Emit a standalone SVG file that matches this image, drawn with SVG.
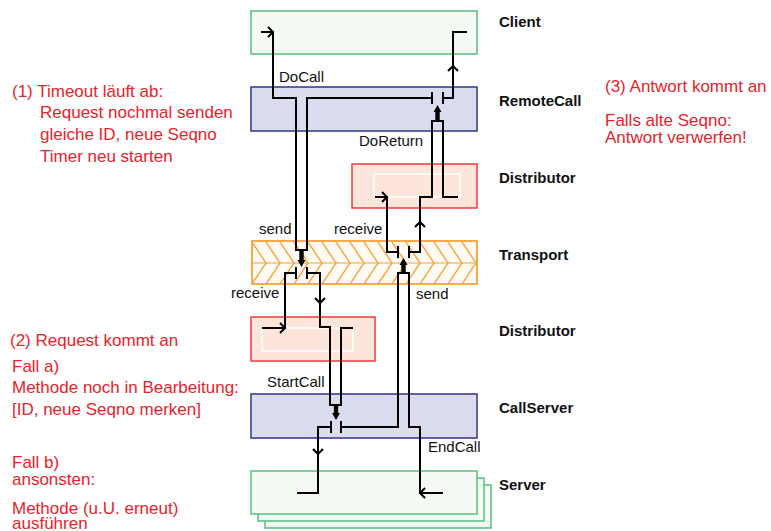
<svg xmlns="http://www.w3.org/2000/svg" width="771" height="531" viewBox="0 0 771 531">
  <style>
    .green { fill: #f4f9f4; stroke: #55c07f; stroke-width: 1.5; }
    .blue { fill: #dcdcef; stroke: #33338f; stroke-width: 1.5; }
    .red { fill: #fde5dc; stroke: #ee3a3a; stroke-width: 1.5; }
    .trans { fill: #fffaf3; stroke: #f6a53e; stroke-width: 1.5; }
    .inner { fill: none; stroke: #ffffff; stroke-width: 1.5; }
    .wire { fill: none; stroke: #000; stroke-width: 2; stroke-linejoin: miter; }
    .head { fill: none; stroke: #000; stroke-width: 2; stroke-linejoin: miter; }
    .bar { fill: none; stroke: #000; stroke-width: 2; }
    .lbl { font-family: "Liberation Sans", Arial, sans-serif; font-size: 15px; fill: #111; }
    .name { font-weight: bold; }
    .note { font-family: "Liberation Sans", Arial, sans-serif; font-size: 17px; fill: #e8232b; }
  </style>
  <defs>
    <!-- hatching for the transport layer: upper half "\" strokes, lower half "/" strokes -->
    <pattern id="hatchDown" patternUnits="userSpaceOnUse" width="14" height="21" patternTransform="translate(252 263)">
      <path d="M0,0 L14,21 M-4,15 L4,27 M10,-6 L18,6" stroke="#f6a53e" stroke-width="1.4" fill="none"/>
    </pattern>
    <pattern id="hatchUp" patternUnits="userSpaceOnUse" width="14" height="21" patternTransform="translate(252 263)">
      <path d="M0,21 L14,0 M-4,6 L4,-6 M10,27 L18,15" stroke="#f6a53e" stroke-width="1.4" fill="none"/>
    </pattern>
    <!-- bold push arrow, tip at origin, pointing down -->
    <path id="push" d="M-2.2,-16 L2.2,-16 L2.2,-7 L4,-7 L0,0 L-4,-7 L-2.2,-7 Z" fill="#000"/>
  </defs>

  <!-- layers -->
  <g id="client">
    <rect class="green" x="251" y="11" width="226" height="43"/>
    <text class="lbl name" x="499" y="27">Client</text>
  </g>

  <g id="remotecall">
    <rect class="blue" x="251" y="87" width="226" height="44"/>
    <text class="lbl name" x="499" y="106">RemoteCall</text>
  </g>

  <g id="distributor-upper">
    <rect class="red" x="352" y="164" width="125" height="44"/>
    <rect class="inner" x="374" y="174" width="86" height="23"/>
    <text class="lbl name" x="499" y="183">Distributor</text>
  </g>

  <g id="transport">
    <rect class="trans" x="252" y="241" width="225" height="43"/>
    <rect x="252" y="241" width="225" height="22" fill="url(#hatchDown)"/>
    <rect x="252" y="263" width="225" height="21" fill="url(#hatchUp)"/>
    <line x1="252" y1="263" x2="477" y2="263" stroke="#f6a53e" stroke-width="1.2"/>
    <rect x="252" y="241" width="225" height="43" fill="none" stroke="#f6a53e" stroke-width="1.5"/>
    <text class="lbl name" x="499" y="260">Transport</text>
  </g>

  <g id="distributor-lower">
    <rect class="red" x="251" y="317" width="124" height="44"/>
    <rect class="inner" x="262" y="328" width="91" height="23"/>
    <text class="lbl name" x="499" y="336">Distributor</text>
  </g>

  <g id="callserver">
    <rect class="blue" x="251" y="394" width="226" height="44"/>
    <text class="lbl name" x="499" y="413">CallServer</text>
  </g>

  <g id="server">
    <rect class="green" x="265" y="485" width="226" height="43"/>
    <rect class="green" x="258" y="478" width="226" height="43"/>
    <rect class="green" x="251" y="471" width="226" height="43"/>
    <rect x="296" y="493" width="147" height="8" fill="none" stroke="#fff" stroke-width="1.2" stroke-dasharray="6 3"/>
    <text class="lbl name" x="499" y="490">Server</text>
  </g>

  <!-- call and return paths -->
  <g id="connectors">
    <!-- request: Client -> RemoteCall -> Transport -> Distributor -> CallServer -> Server -->
    <path class="wire" d="M261,32 H273 V98 H296 V250 H307 V98 H432"/>
    <path class="head" d="M268,27 L273,32 L268,37"/>
    <path class="wire" d="M296,273 H285 V328 H262"/>
    <path class="head" d="M280,323 L285,328 L280,333"/>
    <path class="wire" d="M307,273 H320 V327 H330 V405 H341 V328 H353"/>
    <path class="head" d="M315,298 L320,303 L325,298"/>
    <path class="wire" d="M331,427 H318 V493 H297"/>
    <path class="head" d="M313,449 L318,454 L323,449"/>

    <!-- return: Server -> CallServer -> Transport -> Distributor -> RemoteCall -> Client -->
    <path class="wire" d="M341,427 H398 V273 H409 V427 H420 V493 H443"/>
    <path class="head" d="M425,488 L420,493 L425,498"/>
    <path class="wire" d="M398,252 H387 V197 H375"/>
    <path class="head" d="M382,192 L387,197 L382,202"/>
    <path class="wire" d="M409,252 H420 V197 H432 V121 H443 V197 H458"/>
    <path class="head" d="M415,227 L420,222 L425,227"/>
    <path class="wire" d="M443,98 H453 V32 H467"/>
    <path class="head" d="M448,71 L453,66 L458,71"/>

    <!-- switch points -->
    <path class="bar" d="M432,92 V104 M443,92 V104"/>
    <path class="bar" d="M296,267 V279 M307,267 V279"/>
    <path class="bar" d="M331,421 V433 M341,421 V433"/>
    <path class="bar" d="M398,246 V258 M409,246 V258"/>

    <!-- push arrows -->
    <use href="#push" transform="translate(437.5 105) rotate(180)"/>
    <use href="#push" transform="translate(301.5 267)"/>
    <use href="#push" transform="translate(336 420)"/>
    <use href="#push" transform="translate(403.5 258) rotate(180)"/>
  </g>

  <!-- labels on the paths -->
  <g id="path-labels">
    <text class="lbl" x="279" y="82">DoCall</text>
    <text class="lbl" x="359" y="146">DoReturn</text>
    <text class="lbl" x="259" y="234">send</text>
    <text class="lbl" x="334" y="234">receive</text>
    <text class="lbl" x="231" y="298">receive</text>
    <text class="lbl" x="416" y="299">send</text>
    <text class="lbl" x="267" y="387">StartCall</text>
    <text class="lbl" x="428" y="452">EndCall</text>
  </g>

  <!-- annotations -->
  <g id="notes">
    <text class="note" x="12" y="97">(1) Timeout läuft ab:</text>
    <text class="note" x="40" y="118">Request nochmal senden</text>
    <text class="note" x="40" y="140">gleiche ID, neue Seqno</text>
    <text class="note" x="40" y="162">Timer neu starten</text>

    <text class="note" x="10" y="346">(2) Request kommt an</text>
    <text class="note" x="12" y="372">Fall a)</text>
    <text class="note" x="12" y="393">Methode noch in Bearbeitung:</text>
    <text class="note" x="12" y="415">[ID, neue Seqno merken]</text>
    <text class="note" x="12" y="468">Fall b)</text>
    <text class="note" x="12" y="485">ansonsten:</text>
    <text class="note" x="12" y="514">Methode (u.U. erneut)</text>
    <text class="note" x="12" y="529">ausführen</text>

    <text class="note" x="605" y="92">(3) Antwort kommt an</text>
    <text class="note" x="605" y="126">Falls alte Seqno:</text>
    <text class="note" x="605" y="143">Antwort verwerfen!</text>
  </g>
</svg>
